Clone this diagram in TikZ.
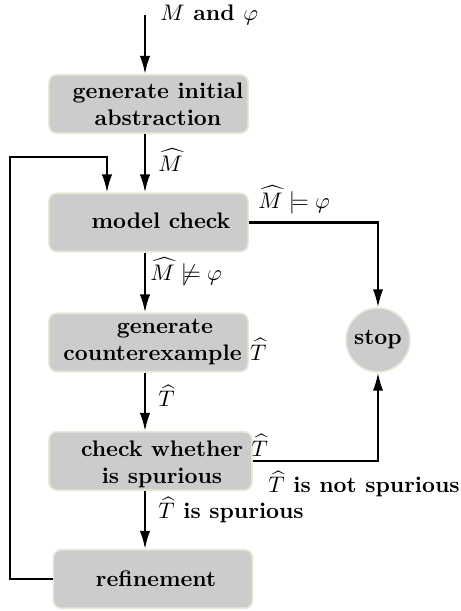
\documentclass[tikz,border=0pt]{standalone}
\usetikzlibrary{arrows.meta,calc}
\definecolor{boxfill}{RGB}{204,204,204}
\definecolor{boxedge}{RGB}{232,232,214}
\begin{document}
\begin{tikzpicture}[x=0.4444pt,y=-0.4444pt,
  box/.style={draw=boxedge,fill=boxfill,line width=0.7pt,rounded corners=3.5pt,
    minimum width=88.5pt,minimum height=26pt,inner sep=0pt},
  txt/.style={font=\bfseries,align=center,inner sep=0pt},
  lbl/.style={font=\bfseries,inner sep=0pt},
  arr/.style={line width=0.9pt,-{Latex[length=8pt,width=4.6pt]}},
  ln/.style={line width=0.9pt}]
\useasboundingbox (0,0) rectangle (460,611);
% boxes
\node[box] (b1) at (148.5,104) {};
\node[box] (b2) at (148.5,222.5) {};
\node[box] (b3) at (148.5,342.5) {};
\node[box,minimum width=90.2pt] (b4) at (150.5,461) {};
\node[box] (b5) at (153,579) {};
\node[draw=boxedge,fill=boxfill,line width=0.7pt,circle,minimum size=28.4pt,inner sep=0pt,font=\bfseries] (stop) at (378,340) {stop};
% box texts
\node[txt] (t1) at (158,104) {generate initial\\abstraction};
\node[txt] (t2) at (161,221) {model check};
\node[txt] (t3) at (165,342) {generate\\counterexample $\widehat{T}$};
\node[txt] (t4) at (162,461) {check whether\rlap{ $\widehat{T}$}\\is spurious};
\node[txt] (t5) at (156,579) {refinement};
% labels
\coordinate (top) at (145,15);
\node[lbl,anchor=west] (l0) at (160,15) {$M$ and $\varphi$};
\node[lbl,anchor=west] (l1) at (158,160) {$\widehat{M}$};
\node[lbl,anchor=west] (l2) at (258,200) {$\widehat{M}\models\varphi$};
\node[lbl,anchor=west] (l3) at (150,272) {$\widehat{M}\not\models\varphi$};
\node[lbl,anchor=west] (l4) at (158,396) {$\widehat{T}$};
\node[lbl,anchor=west] (l5) at (268,484) {$\widehat{T}$ is not spurious};
\node[lbl,anchor=west] (l6) at (158,510) {$\widehat{T}$ is spurious};
% connectors
\draw[arr] (top) -- (top |- b1.north);
\draw[arr] (top |- b1.south) -- (top |- b2.north);
\draw[arr] (top |- b2.south) -- (top |- b3.north);
\draw[arr] (top |- b3.south) -- (top |- b4.north);
\draw[arr] (top |- b4.south) -- (top |- b5.north);
\draw[arr] (b2.east) -| (stop.north);
\draw[arr] (b4.east) -| (stop.south);
\coordinate (c1) at (10,157);
\coordinate (c2) at (107,157);
\draw[arr] (b5.west) -| (c1) -- (c2) -- (c2 |- b2.north);
\end{tikzpicture}
\end{document}
